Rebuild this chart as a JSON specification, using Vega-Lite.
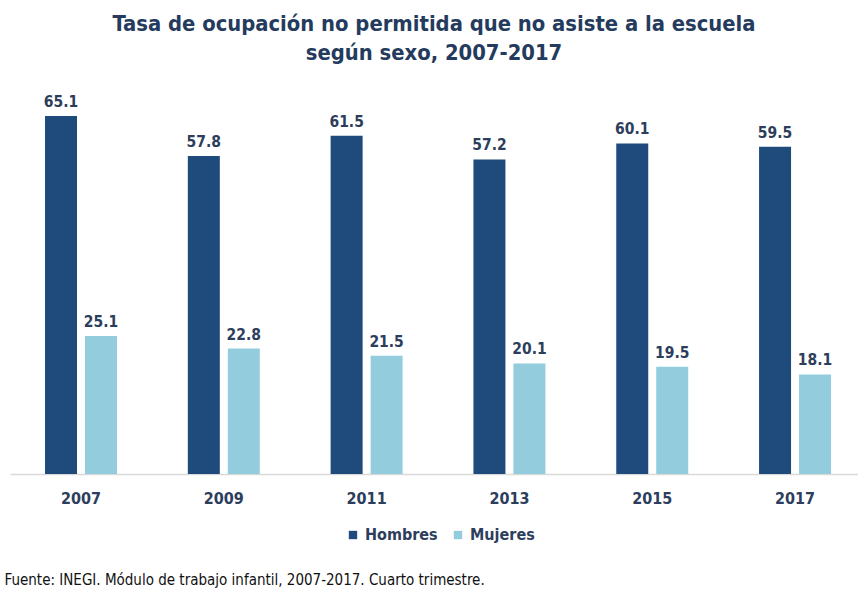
{
  "$schema": "https://vega.github.io/schema/vega-lite/v6.json",
  "width": 848,
  "height": 385,
  "autosize": {"type": "none"},
  "padding": {"left": 10, "top": 89, "right": 0, "bottom": 116},
  "background": "white",
  "config": {
    "view": {"stroke": null},
    "font": "DejaVu Sans Condensed"
  },
  "title": {
    "text": ["Tasa de ocupación no permitida que no asiste a la escuela", "según sexo, 2007-2017"],
    "fontSize": 21.8,
    "fontWeight": "bold",
    "color": "#243b5e",
    "lineHeight": 29,
    "anchor": "middle",
    "offset": 24,
    "font": "DejaVu Sans Condensed"
  },
  "data": {
    "values": [
      {"anio": "2007", "sexo": "Hombres", "valor": 65.1},
      {"anio": "2007", "sexo": "Mujeres", "valor": 25.1},
      {"anio": "2009", "sexo": "Hombres", "valor": 57.8},
      {"anio": "2009", "sexo": "Mujeres", "valor": 22.8},
      {"anio": "2011", "sexo": "Hombres", "valor": 61.5},
      {"anio": "2011", "sexo": "Mujeres", "valor": 21.5},
      {"anio": "2013", "sexo": "Hombres", "valor": 57.2},
      {"anio": "2013", "sexo": "Mujeres", "valor": 20.1},
      {"anio": "2015", "sexo": "Hombres", "valor": 60.1},
      {"anio": "2015", "sexo": "Mujeres", "valor": 19.5},
      {"anio": "2017", "sexo": "Hombres", "valor": 59.5},
      {"anio": "2017", "sexo": "Mujeres", "valor": 18.1}
    ]
  },
  "encoding": {
    "x": {
      "field": "anio",
      "type": "nominal",
      "scale": {"paddingInner": 0.496, "paddingOuter": 0.217, "align": 0.565, "round": false},
      "axis": {
        "title": "Fuente: INEGI. Módulo de trabajo infantil, 2007-2017. Cuarto trimestre.",
        "titleFontSize": 15,
        "titleFontWeight": "normal",
        "titleColor": "#111111",
        "titleAnchor": "start",
        "titleAlign": "left",
        "titleBaseline": "alphabetic",
        "titleX": -6,
        "titleY": 110,
        "labelAngle": 0,
        "labelFontSize": 16,
        "labelFontWeight": "bold",
        "labelColor": "#2d3e5c",
        "labelPadding": 16,
        "ticks": false,
        "domainColor": "#d9d9d9",
        "domainWidth": 1.5
      }
    },
    "xOffset": {"field": "sexo", "type": "nominal", "scale": {"paddingInner": 0.2, "paddingOuter": 0}},
    "y": {
      "field": "valor",
      "type": "quantitative",
      "scale": {"domain": [0, 70]},
      "axis": null
    }
  },
  "layer": [
    {
      "mark": {"type": "bar"},
      "encoding": {
        "color": {
          "field": "sexo",
          "type": "nominal",
          "scale": {"domain": ["Hombres", "Mujeres"], "range": ["#1f4a7c", "#93cddd"]},
          "legend": {
            "title": null,
            "orient": "none",
            "direction": "horizontal",
            "legendX": 335,
            "legendY": 438,
            "symbolType": "square",
            "symbolSize": 70,
            "symbolStrokeWidth": 0,
            "labelFontSize": 16,
            "labelFontWeight": "bold",
            "labelColor": "#2d3e5c",
            "labelOffset": 4,
            "columnPadding": 12
          }
        }
      }
    },
    {
      "mark": {
        "type": "text",
        "baseline": "bottom",
        "dy": -6,
        "fontSize": 15.5,
        "fontWeight": "bold",
        "color": "#2d3e5c"
      },
      "encoding": {
        "text": {"field": "valor", "type": "quantitative", "format": ".1f"}
      }
    }
  ]
}
